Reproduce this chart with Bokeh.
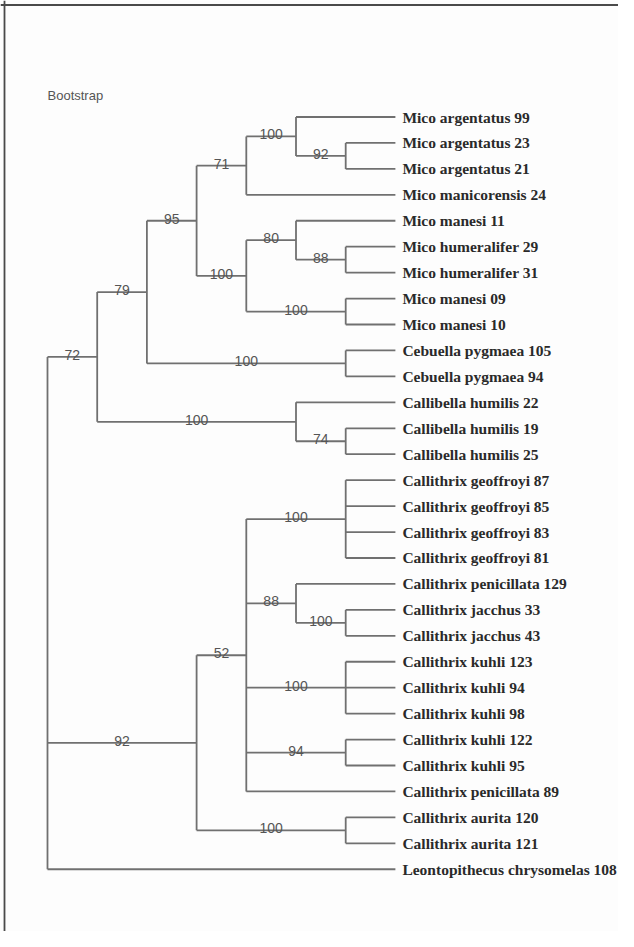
from bokeh.plotting import figure
from bokeh.models import ColumnDataSource, Range1d, Span
from bokeh.core.properties import value
from bokeh.embed import file_html
from bokeh.resources import INLINE

# ---- data: internal nodes (id, parent, depth level, bootstrap support) ----
node_ids = ["root", "n72", "n79", "n95", "n71", "nArg", "n92", "nMicoB", "n80",
            "n88a", "nMan", "nCeb", "nCal", "n74", "n92b", "n52", "nGeo",
            "n88b", "nJac", "nKuh3", "n94", "nAur"]
node_parent = [None, "root", "n72", "n79", "n95", "n71", "nArg", "n95", "nMicoB",
               "n80", "nMicoB", "n79", "n72", "nCal", "root", "n92b", "n52",
               "n52", "n88b", "n52", "n52", "n92b"]
node_depth = [0, 1, 2, 3, 4, 5, 6, 4, 5, 6, 6, 6, 5, 6, 3, 4, 6, 5, 6, 6, 6, 6]
node_support = [None, "72", "79", "95", "71", "100", "92", "100", "80", "88",
                "100", "100", "100", "74", "92", "52", "100", "88", "100",
                "100", "94", "100"]

# ---- data: leaves (label, parent) in top-to-bottom order ----
leaf_names = [
    "Mico argentatus 99", "Mico argentatus 23", "Mico argentatus 21",
    "Mico manicorensis 24", "Mico manesi 11", "Mico humeralifer 29",
    "Mico humeralifer 31", "Mico manesi 09", "Mico manesi 10",
    "Cebuella pygmaea 105", "Cebuella pygmaea 94", "Callibella humilis 22",
    "Callibella humilis 19", "Callibella humilis 25", "Callithrix geoffroyi 87",
    "Callithrix geoffroyi 85", "Callithrix geoffroyi 83", "Callithrix geoffroyi 81",
    "Callithrix penicillata 129", "Callithrix jacchus 33", "Callithrix jacchus 43",
    "Callithrix kuhli 123", "Callithrix kuhli 94", "Callithrix kuhli 98",
    "Callithrix kuhli 122", "Callithrix kuhli 95", "Callithrix penicillata 89",
    "Callithrix aurita 120", "Callithrix aurita 121",
    "Leontopithecus chrysomelas 108"]
leaf_parent = ["nArg", "n92", "n92", "n71", "n80", "n88a", "n88a", "nMan", "nMan",
               "nCeb", "nCeb", "nCal", "n74", "n74", "nGeo", "nGeo", "nGeo", "nGeo",
               "n88b", "nJac", "nJac", "nKuh3", "nKuh3", "nKuh3", "n94", "n94",
               "n52", "nAur", "nAur", "root"]
leaf_depth = 7
title_text = "Bootstrap"

# ---- layout computation ----
depth = dict(zip(node_ids, node_depth))
parent = dict(zip(node_ids, node_parent))
children = {n: [] for n in node_ids}
for n, par in zip(node_ids, node_parent):
    if par is not None:
        children[par].append(("node", n))
for i, par in enumerate(leaf_parent):
    children[par].append(("leaf", i))

ypos = {}
span = {}


def node_y(n):
    if n in ypos:
        return ypos[n]
    ys = []
    for kind, c in children[n]:
        ys.append(float(c) if kind == "leaf" else node_y(c))
    ypos[n] = (min(ys) + max(ys)) / 2.0
    span[n] = (min(ys), max(ys))
    return ypos[n]


for n in node_ids:
    node_y(n)

x0, y0, x1, y1 = [], [], [], []
for n in node_ids:                      # vertical lines at internal nodes
    lo, hi = span[n]
    x0.append(depth[n]); x1.append(depth[n]); y0.append(lo); y1.append(hi)
for n in node_ids:                      # branches to internal nodes
    if parent[n] is not None:
        x0.append(depth[parent[n]]); x1.append(depth[n])
        y0.append(ypos[n]); y1.append(ypos[n])
for i, par in enumerate(leaf_parent):   # branches to leaves
    x0.append(depth[par]); x1.append(leaf_depth); y0.append(i); y1.append(i)

seg = ColumnDataSource(dict(x0=x0, y0=y0, x1=x1, y1=y1))

lab_x, lab_y, lab_t = [], [], []
for n, s in zip(node_ids, node_support):
    if s is not None and parent[n] is not None:
        lab_x.append((depth[parent[n]] + depth[n]) / 2.0)
        lab_y.append(ypos[n])
        lab_t.append(s)
sup = ColumnDataSource(dict(x=lab_x, y=lab_y, t=lab_t))

leaves = ColumnDataSource(dict(x=[leaf_depth] * len(leaf_names),
                               y=list(range(len(leaf_names))), t=leaf_names))

# ---- figure ----
W, H = 618, 931
px_x, x_org = 49.7, 47.0      # pixels per depth level, origin
px_y, y_org = 25.94, 116.5    # pixels per leaf, origin
p = figure(width=W, height=H, output_backend="svg", toolbar_location=None,
           x_range=Range1d(-x_org / px_x, (W - x_org) / px_x),
           y_range=Range1d((H - y_org) / px_y, -y_org / px_y),
           min_border=0, background_fill_color="#fdfdfd",
           border_fill_color="#fdfdfd", outline_line_color=None)
p.axis.visible = False
p.grid.visible = False

# frame (left and top edges)
p.add_layout(Span(location=(4.0 - x_org) / px_x, dimension="height",
                  line_color="#4a4a4a", line_width=1.8))
p.add_layout(Span(location=(4.5 - y_org) / px_y, dimension="width",
                  line_color="#4a4a4a", line_width=1.8))

p.segment("x0", "y0", "x1", "y1", source=seg, line_color="#707070",
          line_width=1.8)

p.text("x", "y", "t", source=sup, text_font=value("Liberation Sans"),
       text_font_size="14px", text_color="#555555", text_align="center",
       text_baseline="alphabetic", y_offset=-2)

p.text("x", "y", "t", source=leaves, text_font=value("Liberation Serif"),
       text_font_size="15.5px", text_font_style="bold", text_color="#2a2a2a",
       text_align="left", text_baseline="middle", x_offset=7)

p.text(x=[0], y=[-0.83], text=[title_text], text_font=value("Liberation Sans"),
       text_font_size="13px", text_color="#555555", text_align="left",
       text_baseline="middle")

open("out.html", "w").write(file_html(p, INLINE))
